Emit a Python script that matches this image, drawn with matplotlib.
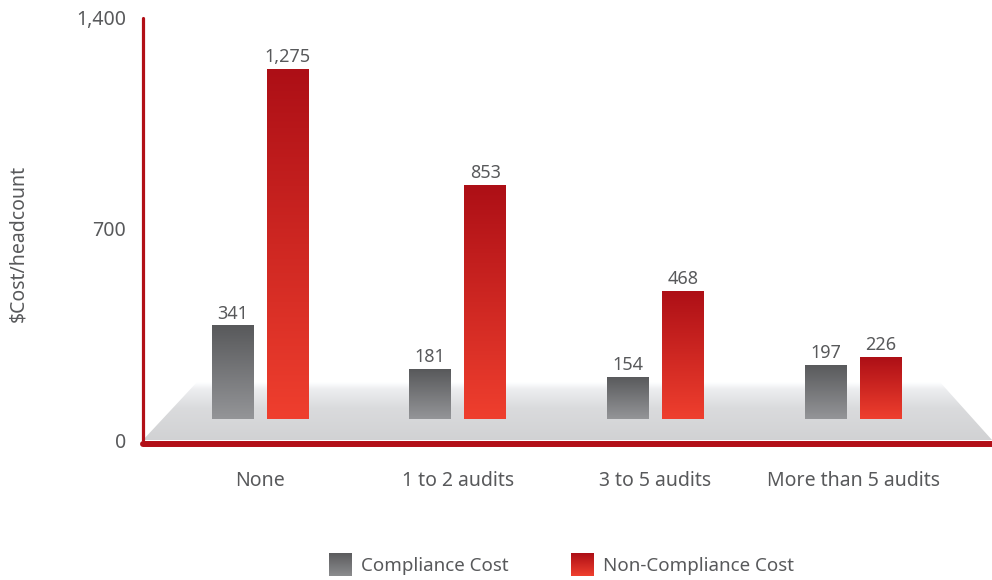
#!/usr/bin/env python3
"""Compliance vs non-compliance cost per headcount, by number of audits."""

import numpy as np
import matplotlib
matplotlib.use('Agg')
import matplotlib.pyplot as plt
from matplotlib.patches import Polygon, Patch
from matplotlib.image import BboxImage
from matplotlib.transforms import Bbox, TransformedBbox
from matplotlib.legend_handler import HandlerBase
from matplotlib.ticker import FuncFormatter

# data
categories = ['None', '1 to 2 audits', '3 to 5 audits', 'More than 5 audits']
compliance = [341, 181, 154, 197]
non_compliance = [1275, 853, 468, 226]
series_names = ['Compliance Cost', 'Non-Compliance Cost']
y_ticks = [0, 700, 1400]

# style
TEXT = '#58595b'
AXIS_RED = '#b20f17'
GRAY_TOP, GRAY_BOT = '#58595b', '#949598'
RED_TOP, RED_BOT = '#ad0f16', '#ef3f2e'
FLOOR = 70          # bars stand on the pseudo 3d floor
BAR_SCALE = 0.91    # bars are drawn slightly compressed in the original
plt.rcParams['font.family'] = ['Noto Sans', 'DejaVu Sans']


def gradient(top, bottom, n=256):
    """Vertical gradient image (top row first)."""
    c1 = np.array(matplotlib.colors.to_rgb(top))
    c2 = np.array(matplotlib.colors.to_rgb(bottom))
    t = np.linspace(0, 1, n)[:, None]
    return (c1 * (1 - t) + c2 * t)[:, None, :]


class GradientHandler(HandlerBase):
    """Legend handle drawn as a small gradient square."""

    def __init__(self, top, bottom):
        super().__init__()
        self.img = gradient(top, bottom, 64)

    def create_artists(self, legend, orig_handle, xdescent, ydescent,
                       width, height, fontsize, trans):
        size = height * 1.75
        bb = Bbox.from_bounds(-xdescent + (width - size) / 2,
                              -ydescent - (size - height) / 2, size, size)
        im = BboxImage(TransformedBbox(bb, trans), interpolation='bilinear')
        im.set_data(self.img)
        return [im]


fig = plt.figure(figsize=(9.92, 5.8), dpi=100)
ax = fig.add_axes([143 / 992, 140 / 580, 849 / 992, 422 / 580])
ax.set_xlim(-0.592, 3.703)
ax.set_ylim(0, 1400)

# floor
floor_pts = [(-0.592, 0), (-0.319, 192), (3.44, 192), (3.703, 0)]
floor = Polygon(floor_pts, closed=True, facecolor='none', edgecolor='none')
ax.add_patch(floor)
t = np.linspace(0, 1, 256)
shade = np.interp(t, [0, 0.12, 0.45, 1], [1.0, 0.93, 0.855, 0.82])
floor_img = np.stack([shade, shade + 0.003, shade + 0.01], axis=-1)[:, None, :]
im = ax.imshow(np.clip(floor_img, 0, 1), extent=(-0.592, 3.703, 0, 192),
               aspect='auto', interpolation='bilinear', zorder=1)
im.set_clip_path(floor)

# bars
x = np.arange(len(categories))
offset, width = 0.139, 0.212
groups = [(x - offset, compliance, GRAY_TOP, GRAY_BOT),
          (x + offset, non_compliance, RED_TOP, RED_BOT)]
for xs, vals, top, bot in groups:
    heights = np.array(vals) * BAR_SCALE
    bars = ax.bar(xs, heights, width=width, bottom=FLOOR, color='none',
                  edgecolor='none', zorder=2)
    for bar, v in zip(bars, vals):
        bx, by = bar.get_x(), bar.get_y()
        bw, bh = bar.get_width(), bar.get_height()
        g = ax.imshow(gradient(top, bot), extent=(bx, bx + bw, by, by + bh),
                      aspect='auto', interpolation='bilinear', zorder=2)
        g.set_clip_path(bar)
        ax.annotate(f'{v:,}', xy=(bx + bw / 2, by + bh), xytext=(0, 2),
                    textcoords='offset points', ha='center', va='bottom',
                    fontsize=13, color=TEXT)

# axes styling
for side in ['top', 'right']:
    ax.spines[side].set_visible(False)
ax.spines['left'].set_color(AXIS_RED)
ax.spines['left'].set_linewidth(2.3)
ax.spines['left'].set_capstyle('round')
ax.spines['bottom'].set_color(AXIS_RED)
ax.spines['bottom'].set_linewidth(4.3)
ax.spines['bottom'].set_capstyle('round')
ax.spines['bottom'].set_position(('outward', 3))
for s in ax.spines.values():
    s.set_zorder(5)

ax.set_yticks(y_ticks)
ax.yaxis.set_major_formatter(FuncFormatter(lambda v, p: f'{int(v):,}'))
ax.set_xticks(x)
ax.set_xticklabels(categories)
ax.tick_params(axis='y', length=0, pad=12, labelsize=14, labelcolor=TEXT)
ax.tick_params(axis='x', length=0, pad=19, labelsize=14, labelcolor=TEXT)
fig.text(18 / 992, 1 - 243 / 580, '$Cost/headcount', rotation=90,
         ha='center', va='center', fontsize=14, color=TEXT)

handles = [Patch(label=n) for n in series_names]
leg = fig.legend(handles=handles, loc='center', bbox_to_anchor=(0.567, 1 - 566 / 580),
                 ncol=2, frameon=False, fontsize=13.5, handlelength=1.0,
                 handletextpad=0.6, columnspacing=3.4,
                 handler_map={handles[0]: GradientHandler('#5c5c5e', '#8b8c8e'),
                              handles[1]: GradientHandler(RED_TOP, RED_BOT)})
for txt in leg.get_texts():
    txt.set_color(TEXT)

fig.savefig('out.png', dpi=100)
plt.close(fig)
